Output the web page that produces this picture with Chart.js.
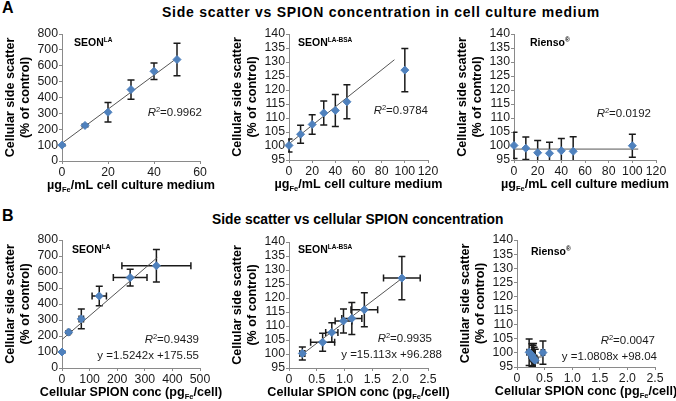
<!DOCTYPE html>
<html>
<head>
<meta charset="utf-8">
<script src="https://cdn.jsdelivr.net/npm/chart.js@4.4.1/dist/chart.umd.min.js"></script>
<style>
body { margin: 0; width: 676px; height: 401px; background: #fff; position: relative; overflow: hidden;
       font-family: "Liberation Sans", Arial, sans-serif; color: #000; }
.lbl { position: absolute; font-weight: bold; font-size: 16px; line-height: 16px; }
.ttl { position: absolute; font-weight: bold; font-size: 14px; line-height: 16px; white-space: nowrap; }
canvas { position: absolute; }
</style>
</head>
<body>
<div class="lbl" style="left:2px;top:0px">A</div>
<div class="ttl" style="left:162px;top:4px;letter-spacing:0.75px">Side scatter vs SPION concentration in cell culture medium</div>
<div class="lbl" style="left:2px;top:208px">B</div>
<div class="ttl" style="left:212px;top:212px;font-size:13.8px">Side scatter vs cellular SPION concentration</div>

<script>
// ---- data ----
// A: SPION concentration in medium (µg Fe / mL)
const seonConc = [0, 10, 20, 30, 40, 50];
const seonSsc = [100, 224, 307, 450, 565, 639];
const seonSscErr = [6, 8, 62, 61, 52, 102];
const seonTrendX = [0, 50];
const seonTrendY = [112, 648];

const bsaConc = [0, 10, 20, 30, 40, 50, 100];
const bsaSsc = [100.2, 104.2, 107.7, 111.8, 112.7, 115.8, 127.1];
const bsaSscErr = [2.3, 3.2, 3.5, 4.3, 5.7, 6.1, 7.7];
const bsaTrendX = [0, 91];
const bsaTrendY = [100.8, 130.8];

const riensoConc = [0, 10, 20, 30, 40, 50, 100];
const riensoSsc = [100.2, 99.2, 97.6, 97.4, 98.3, 98.1, 100.1];
const riensoSscErr = [4.7, 4.0, 4.4, 3.9, 4.4, 5.2, 4.1];
const riensoTrendX = [0, 105];
const riensoTrendY = [98.9, 98.9];

// B: cellular SPION concentration (pg Fe / cell)
const seonCell = [0, 24, 70, 135, 247, 342];
const seonCellErr = [0, 4, 8, 26, 61, 125];
const seonCellTrendX = [0, 345];
const seonCellTrendY = [178, 690];

const bsaCell = [0.24, 0.605, 0.77, 0.98, 1.13, 1.355, 2.03];
const bsaCellErr = [0.045, 0.216, 0.11, 0.15, 0.18, 0.24, 0.33];
const bsaCellTrendX = [0.24, 2.03];
const bsaCellTrendY = [99.9, 127.0];

const riensoCell = [0.22, 0.27, 0.31, 0.33, 0.29, 0.30, 0.47];
const riensoCellErr = [0.04, 0.05, 0.05, 0.05, 0.05, 0.06, 0.03];
const riensoCellTrendX = [0.22, 0.47];
const riensoCellTrendY = [98.3, 98.6];

// axis ranges [min, max, step]
const seonXRange = [0, 60, 20];
const seonYRange = [0, 800, 100];
const mediumXRange = [0, 120, 20];
const smallYRange = [95, 140, 5];
const seonCellXRange = [0, 500, 100];
const cellXRange = [0, 2.5, 0.5];

// labels
const r2Values = ['0.9962', '0.9784', '0.0192', '0.9439', '0.9935', '0.0047'];
const equations = ['y =1.5242x +175.55', 'y =15.113x +96.288', 'y =1.0808x +98.04'];
const yTitle = ['Cellular side scatter', '(% of control)'];
const xTitleA = ['\u00b5g', 'Fe', '/mL cell culture medium'];
const xTitleB = ['Cellular SPION conc (pg', 'Fe', '/cell)'];

const FONT = '"Liberation Sans", Arial, sans-serif';
Chart.defaults.font.family = FONT;
Chart.defaults.color = '#1a1a1a';

function pts(xs, ys, ye, xe) {
    return xs.map((x, i) => ({ x: x, y: ys[i], ye: ye ? ye[i] : 0, xe: xe ? xe[i] : 0 }));
}
function line(xs, ys) {
    return xs.map((x, i) => ({ x: x, y: ys[i] }));
}

// draw a run of text pieces with different fonts / offsets
function rich(ctx, parts, x, y, align) {
    let w = 0;
    parts.forEach(p => { ctx.font = p.f + ' ' + FONT; p.w = ctx.measureText(p.t).width; w += p.w; });
    let cx = align === 'right' ? x - w : align === 'center' ? x - w / 2 : x;
    ctx.textBaseline = 'middle';
    ctx.textAlign = 'left';
    parts.forEach(p => {
        ctx.font = p.f + ' ' + FONT;
        ctx.fillText(p.t, cx, y + (p.dy || 0));
        cx += p.w;
    });
}

const errorBars = {
    id: 'errorBars',
    beforeDatasetsDraw(chart) {
        const { ctx, chartArea: a, scales: { x, y } } = chart;
        const cap = 3.5;
        ctx.save();
        ctx.beginPath();
        ctx.rect(a.left - 1, a.top - 1, a.right - a.left + 40, a.bottom - a.top + 1);
        ctx.clip();
        ctx.strokeStyle = '#1a1a1a';
        ctx.lineWidth = 1.5;
        chart.data.datasets[0].data.forEach(p => {
            const px = x.getPixelForValue(p.x), py = y.getPixelForValue(p.y);
            ctx.beginPath();
            if (p.ye) {
                const y1 = y.getPixelForValue(p.y - p.ye), y2 = y.getPixelForValue(p.y + p.ye);
                ctx.moveTo(px, y1); ctx.lineTo(px, y2);
                ctx.moveTo(px - cap, y1); ctx.lineTo(px + cap, y1);
                ctx.moveTo(px - cap, y2); ctx.lineTo(px + cap, y2);
            }
            if (p.xe) {
                const x1 = x.getPixelForValue(p.x - p.xe), x2 = x.getPixelForValue(p.x + p.xe);
                ctx.moveTo(x1, py); ctx.lineTo(x2, py);
                ctx.moveTo(x1, py - cap); ctx.lineTo(x1, py + cap);
                ctx.moveTo(x2, py - cap); ctx.lineTo(x2, py + cap);
            }
            ctx.stroke();
        });
        ctx.restore();
    }
};

const panelText = {
    id: 'panelText',
    afterDraw(chart, args, o) {
        const { ctx, chartArea: a } = chart;
        ctx.save();
        ctx.fillStyle = '#000';
        rich(ctx, [{ t: o.name, f: 'bold 10.5px' }, { t: o.sup, f: 'bold 6.5px', dy: -3 }],
            a.left + o.nameDx, a.top + o.nameDy, 'left');
        ctx.fillStyle = '#1a1a1a';
        rich(ctx, [{ t: 'R', f: 'italic 11.5px' }, { t: '2', f: '7.5px', dy: -3 }, { t: '=' + o.r2, f: '11.5px' }],
            a.right + o.r2Dx, a.top + o.r2Dy, 'right');
        if (o.eq) rich(ctx, [{ t: o.eq, f: '11.5px' }], a.right + o.eqDx, a.top + o.r2Dy + 16, 'right');
        ctx.fillStyle = '#000';
        const xt = o.xTitle;
        rich(ctx, [{ t: xt[0], f: 'bold 12.6px' }, { t: xt[1], f: 'bold 7.5px', dy: 4 }, { t: xt[2], f: 'bold 12.6px' }],
            (a.left + a.right) / 2, a.bottom + 25, 'center');
        ctx.restore();
    }
};

function axis(range, isY) {
    return {
        type: 'linear',
        min: range[0], max: range[1],
        ticks: { stepSize: range[2], autoSkip: false, padding: 1, maxRotation: 0,
                 font: { size: 12.3 }, color: '#1a1a1a' },
        grid: { display: true, drawOnChartArea: false, drawTicks: true, tickLength: 3, color: '#8a8a8a' },
        border: { display: true, color: '#8a8a8a', width: 1 },
        title: isY ? { display: true, text: yTitle, color: '#000', font: { size: 12.6, weight: 'bold', lineHeight: 1.2 },
                       padding: { top: 3, bottom: 0 } } : { display: false },
        afterFit: s => { if (isY) s.width = 62; else s.height = 42; }
    };
}

function makeChart(plot, points, trend, xRange, yRange, text) {
    const cv = document.createElement('canvas');
    const w = plot[2] - plot[0] + 62 + 24, h = plot[3] - plot[1] + 14 + 42;
    cv.width = w; cv.height = h;
    cv.style.left = (plot[0] - 62) + 'px';
    cv.style.top = (plot[1] - 14) + 'px';
    document.body.appendChild(cv);
    new Chart(cv, {
        type: 'scatter',
        data: {
            datasets: [
                { type: 'scatter', data: points, pointStyle: 'rectRot', pointRadius: 4, clip: false,
                  backgroundColor: '#4f81bd', borderColor: '#4f81bd', borderWidth: 1, order: 1 },
                { type: 'line', data: trend, borderColor: '#555', borderWidth: 1, pointRadius: 0, order: 2 }
            ]
        },
        options: {
            responsive: false,
            animation: false,
            events: [],
            layout: { padding: { left: 0, top: 14, right: 24, bottom: 0 } },
            plugins: { legend: { display: false }, tooltip: { enabled: false }, panelText: text },
            scales: { x: axis(xRange, false), y: axis(yRange, true) }
        },
        plugins: [errorBars, panelText]
    });
}

makeChart([62, 34, 200, 161], pts(seonConc, seonSsc, seonSscErr), line(seonTrendX, seonTrendY),
    seonXRange, seonYRange,
    { name: 'SEON', sup: 'LA', nameDx: 12, nameDy: 9, r2: r2Values[0], r2Dx: 2, r2Dy: 79, xTitle: xTitleA });
makeChart([289, 34, 428, 160], pts(bsaConc, bsaSsc, bsaSscErr), line(bsaTrendX, bsaTrendY),
    mediumXRange, smallYRange,
    { name: 'SEON', sup: 'LA-BSA', nameDx: 9, nameDy: 9, r2: r2Values[1], r2Dx: 0, r2Dy: 77, xTitle: xTitleA });
makeChart([514, 34, 656, 160], pts(riensoConc, riensoSsc, riensoSscErr), line(riensoTrendX, riensoTrendY),
    mediumXRange, smallYRange,
    { name: 'Rienso', sup: '\u00ae', nameDx: 16, nameDy: 9, r2: r2Values[2], r2Dx: -5, r2Dy: 80, xTitle: xTitleA });

makeChart([62, 240, 200, 368], pts(seonCell, seonSsc, seonSscErr, seonCellErr), line(seonCellTrendX, seonCellTrendY),
    seonCellXRange, seonYRange,
    { name: 'SEON', sup: 'LA', nameDx: 10, nameDy: 10, r2: r2Values[3], r2Dx: -1, r2Dy: 100, eq: equations[0], eqDx: -1, xTitle: xTitleB });
makeChart([289, 242, 428, 368], pts(bsaCell, bsaSsc, bsaSscErr, bsaCellErr), line(bsaCellTrendX, bsaCellTrendY),
    cellXRange, smallYRange,
    { name: 'SEON', sup: 'LA-BSA', nameDx: 9, nameDy: 8, r2: r2Values[4], r2Dx: 4, r2Dy: 97, eq: equations[1], eqDx: 14, xTitle: xTitleB });
makeChart([517, 240, 655, 367], pts(riensoCell, riensoSsc, riensoSscErr, riensoCellErr), line(riensoCellTrendX, riensoCellTrendY),
    cellXRange, smallYRange,
    { name: 'Rienso', sup: '\u00ae', nameDx: 14, nameDy: 12, r2: r2Values[5], r2Dx: 0, r2Dy: 101, eq: equations[2], eqDx: 2, xTitle: xTitleB });
</script>
</body>
</html>
